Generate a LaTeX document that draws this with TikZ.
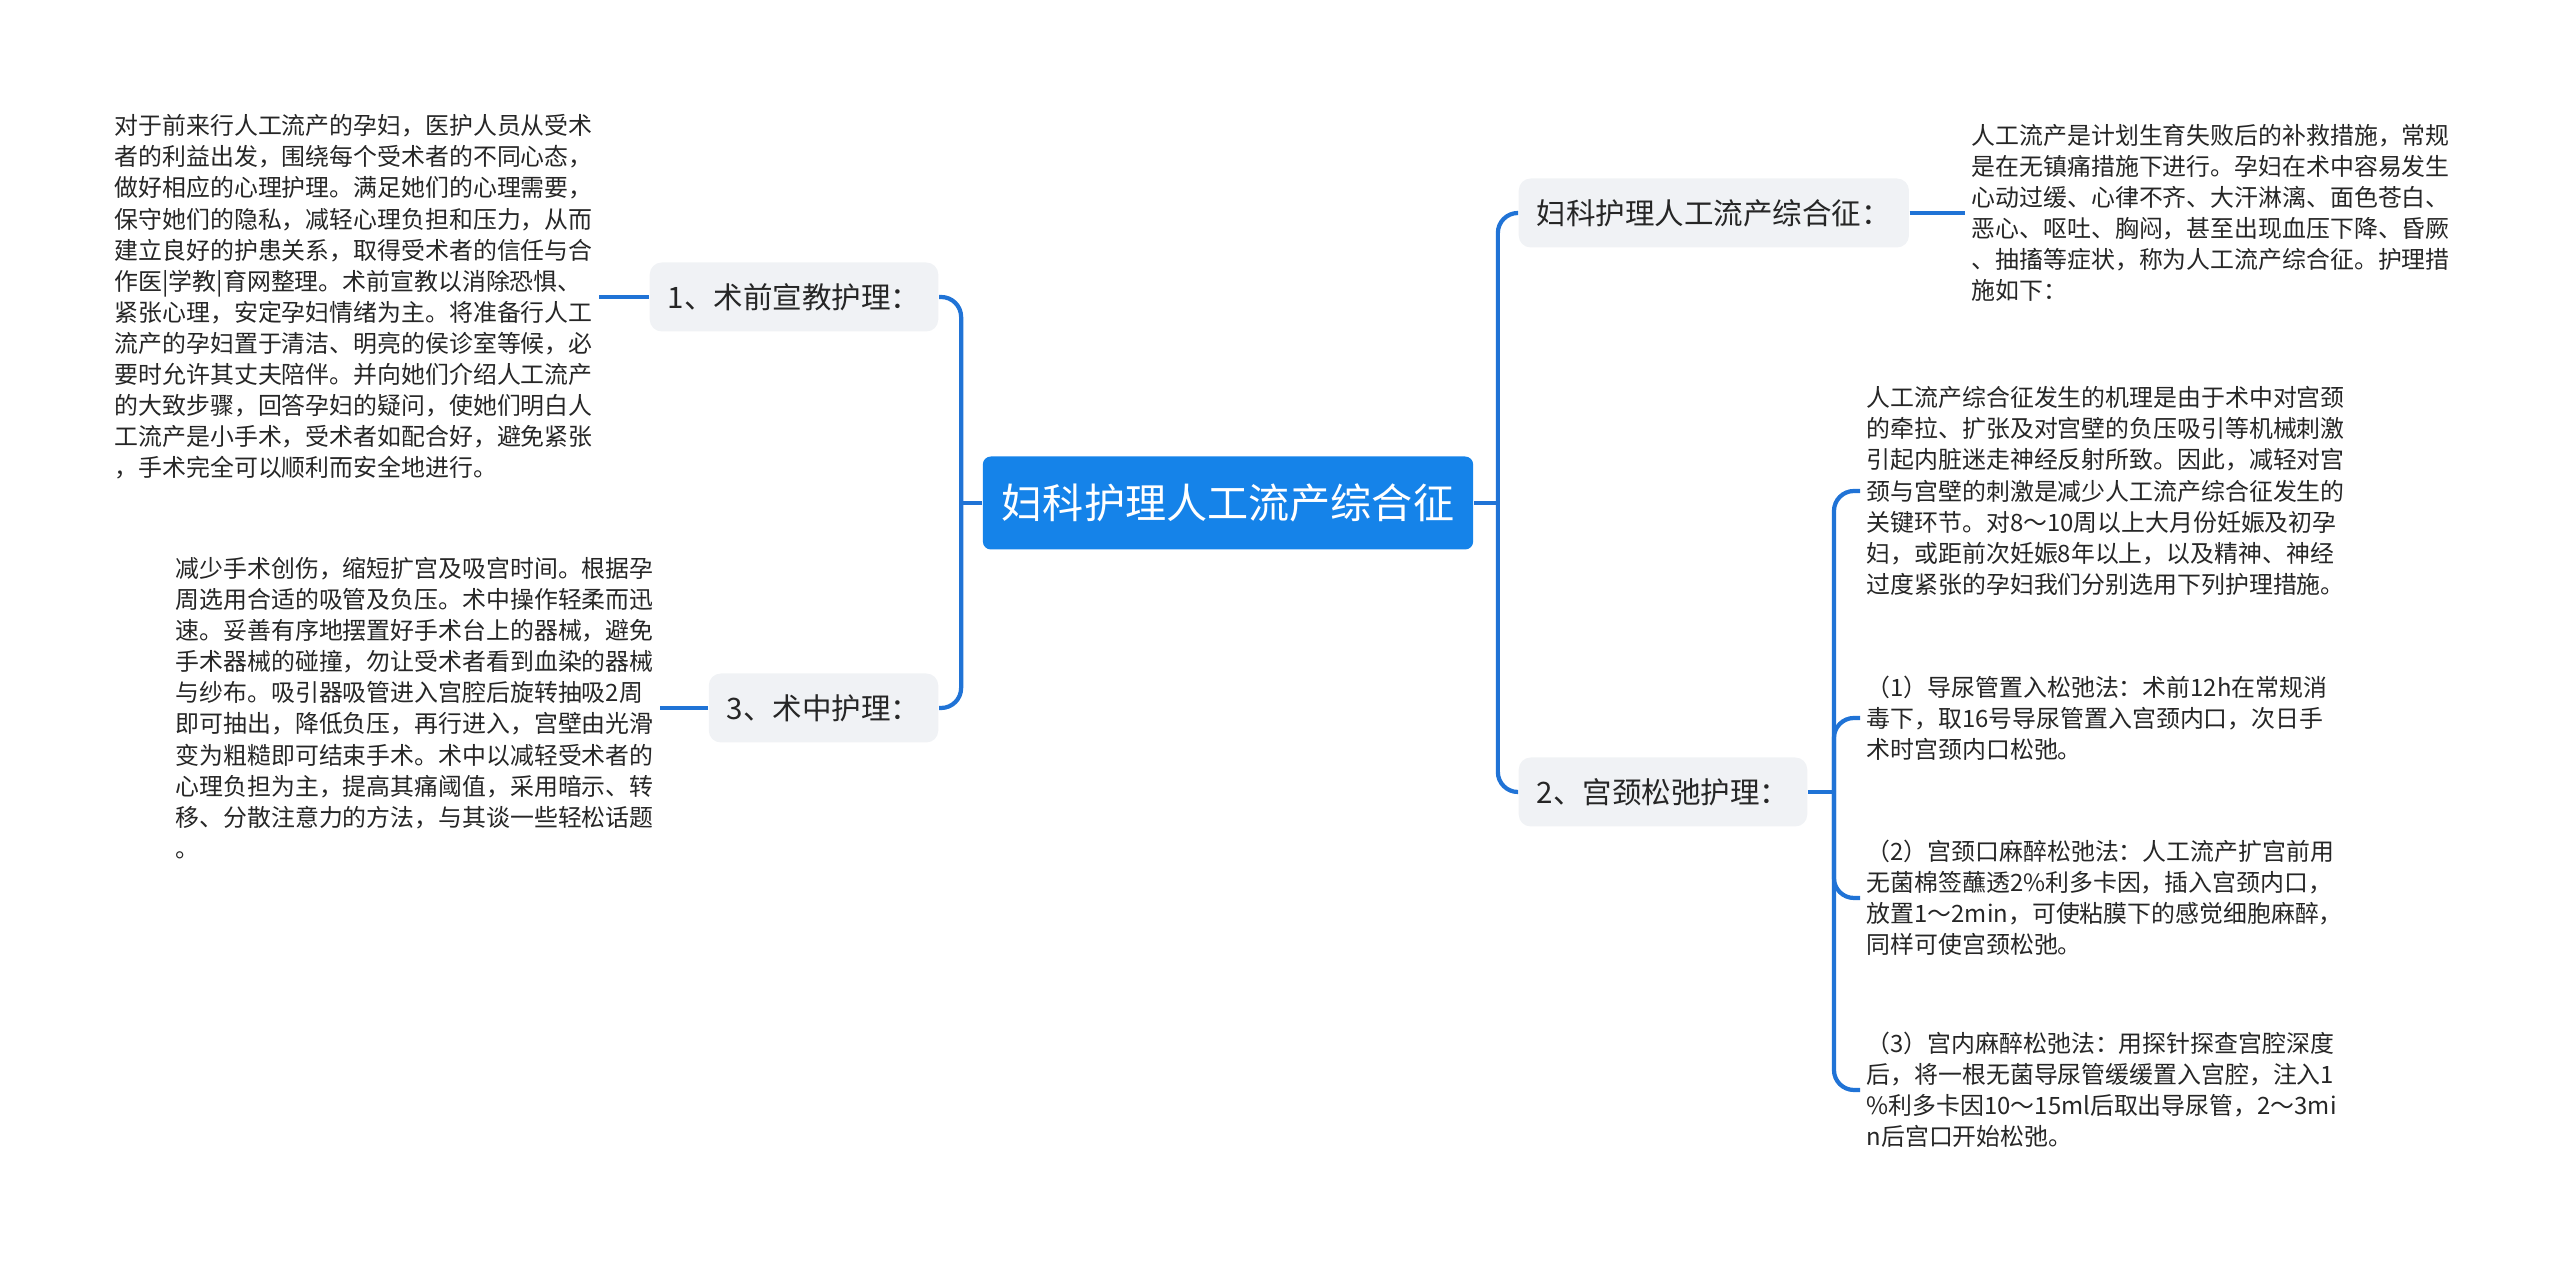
\documentclass[tikz,border=0pt]{standalone}
\usepackage{fontspec}
\setmainfont{Noto Sans CJK SC}
\usetikzlibrary{positioning}

\definecolor{linkblue}{HTML}{2073D6}
\definecolor{rootblue}{HTML}{1583E9}
\definecolor{topicgray}{HTML}{F0F2F5}
\definecolor{inkgray}{HTML}{262626}

\tikzset{
  link/.style={draw=linkblue, line width=1.2pt},
  root/.style={fill=rootblue, text=white, rounded corners=0.8mm,
    font=\fontsize{11.7}{14}\selectfont, minimum height=9.3mm, inner xsep=1.9mm},
  topic/.style={fill=topicgray, text=inkgray, rounded corners=1.2mm,
    font=\fontsize{8.4}{10}\selectfont, minimum height=6.9mm, inner xsep=1.8mm},
  note/.style={align=left, text=inkgray, font=\fontsize{6.8}{8.85}\selectfont,
    inner xsep=0.6mm, inner ysep=0pt},
}

\begin{document}
\begin{tikzpicture}[x=0.1mm, y=-0.1mm]
  \useasboundingbox (0,0) rectangle (2560,1270);

  % central topic
  \node[root] (root) at (1228,503) {妇科护理人工流产综合征};

  % left side
  \node[topic, anchor=east] (pre) at (939,297) {1、术前宣教护理：};
  \node[topic, anchor=east] (mid) at (939,708) {3、术中护理：};
  \node[note, anchor=west] (pretext) at (108,297) {对于前来行人工流产的孕妇，医护人员从受术\\
者的利益出发，围绕每个受术者的不同心态，\\
做好相应的心理护理。满足她们的心理需要，\\
保守她们的隐私，减轻心理负担和压力，从而\\
建立良好的护患关系，取得受术者的信任与合\\
作医|学教|育网整理。术前宣教以消除恐惧、\\
紧张心理，安定孕妇情绪为主。将准备行人工\\
流产的孕妇置于清洁、明亮的侯诊室等候，必\\
要时允许其丈夫陪伴。并向她们介绍人工流产\\
的大致步骤，回答孕妇的疑问，使她们明白人\\
工流产是小手术，受术者如配合好，避免紧张\\
，手术完全可以顺利而安全地进行。};
  \node[note, anchor=west] (midtext) at (169,708) {减少手术创伤，缩短扩宫及吸宫时间。根据孕\\
周选用合适的吸管及负压。术中操作轻柔而迅\\
速。妥善有序地摆置好手术台上的器械，避免\\
手术器械的碰撞，勿让受术者看到血染的器械\\
与纱布。吸引器吸管进入宫腔后旋转抽吸2周\\
即可抽出，降低负压，再行进入，宫壁由光滑\\
变为粗糙即可结束手术。术中以减轻受术者的\\
心理负担为主，提高其痛阈值，采用暗示、转\\
移、分散注意力的方法，与其谈一些轻松话题\\
。};

  % right side
  \node[topic, anchor=west] (syn) at (1518,213) {妇科护理人工流产综合征：};
  \node[topic, anchor=west] (cer) at (1518,792) {2、宫颈松弛护理：};
  \node[note, anchor=west] (syntext) at (1965,213) {人工流产是计划生育失败后的补救措施，常规\\
是在无镇痛措施下进行。孕妇在术中容易发生\\
心动过缓、心律不齐、大汗淋漓、面色苍白、\\
恶心、呕吐、胸闷，甚至出现血压下降、昏厥\\
、抽搐等症状，称为人工流产综合征。护理措\\
施如下：};
  \node[note, anchor=west] (mech) at (1860,491) {人工流产综合征发生的机理是由于术中对宫颈\\
的牵拉、扩张及对宫壁的负压吸引等机械刺激\\
引起内脏迷走神经反射所致。因此，减轻对宫\\
颈与宫壁的刺激是减少人工流产综合征发生的\\
关键环节。对8～10周以上大月份妊娠及初孕\\
妇，或距前次妊娠8年以上，以及精神、神经\\
过度紧张的孕妇我们分别选用下列护理措施。};
  \node[note, anchor=west] (way1) at (1860,718) {（1）导尿管置入松弛法：术前12h在常规消\\
毒下，取16号导尿管置入宫颈内口，次日手\\
术时宫颈内口松弛。};
  \node[note, anchor=west] (way2) at (1860,898) {（2）宫颈口麻醉松弛法：人工流产扩宫前用\\
无菌棉签蘸透2\%利多卡因，插入宫颈内口，\\
放置1～2min，可使粘膜下的感觉细胞麻醉，\\
同样可使宫颈松弛。};
  \node[note, anchor=west] (way3) at (1860,1090) {（3）宫内麻醉松弛法：用探针探查宫腔深度\\
后，将一根无菌导尿管缓缓置入宫腔，注入1\\
\%利多卡因10～15ml后取出导尿管，2～3mi\\
n后宫口开始松弛。};

  % connectors
  \coordinate (lt) at ([xshift=-2.1mm]root.west);
  \coordinate (rt) at ([xshift=2.4mm]root.east);
  \coordinate (st) at ([xshift=2.6mm]cer.east);
  \draw[link] (root.west) -- (lt);
  \draw[link, rounded corners=2mm] (pre.east) -| (lt) |- (mid.east);
  \draw[link] (root.east) -- (rt);
  \draw[link, rounded corners=2mm] (syn.west) -| (rt) |- (cer.west);
  \draw[link] (pretext.east) -- (pre.west);
  \draw[link] (midtext.east) -- (mid.west);
  \draw[link] (syn.east) -- (syntext.west);
  \draw[link] (cer.east) -- (st);
  \draw[link, rounded corners=2mm] (mech.west) -| (st) |- (way3.west);
  \draw[link, rounded corners=2mm] (st) |- (way1.west);
  \draw[link, rounded corners=2mm] (st) |- (way2.west);
\end{tikzpicture}
\end{document}
